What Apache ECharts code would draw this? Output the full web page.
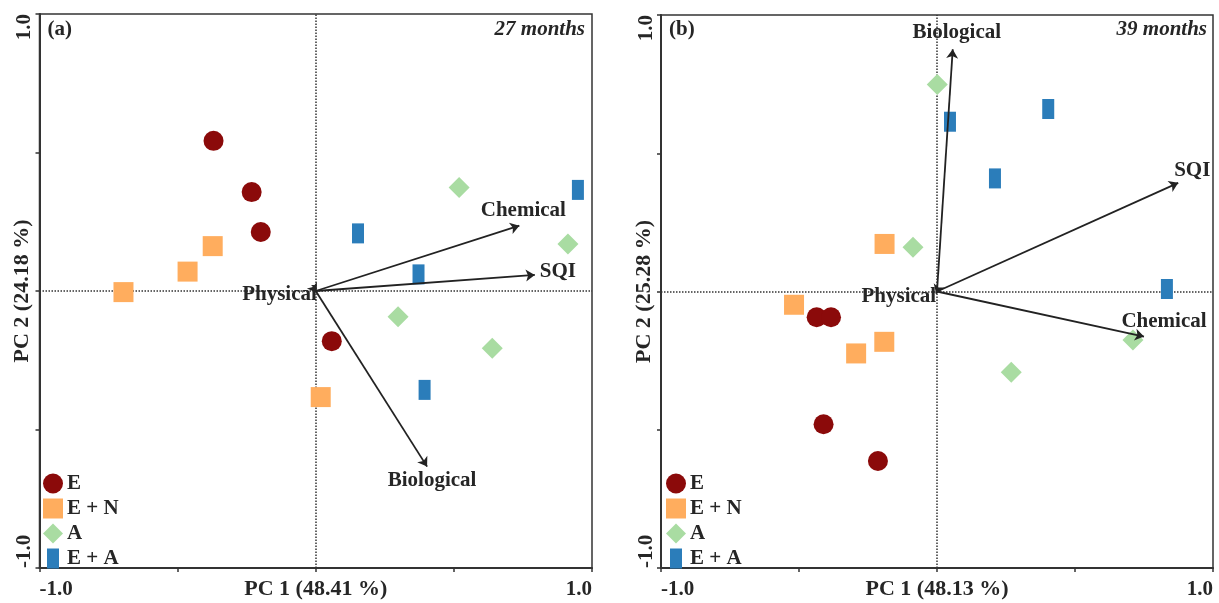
<!DOCTYPE html>
<html>
<head>
<meta charset="utf-8">
<script src="https://cdn.jsdelivr.net/npm/echarts@6/dist/echarts.min.js"></script>
<style>html,body{margin:0;padding:0;background:#fff}#c{width:1219px;height:603px}</style>
</head>
<body>
<div id="c"></div>
<script>
// ---------- DATA ----------
const groups = ['E', 'E + N', 'A', 'E + A'];
const panelTags = ['(a)', '(b)'];
const panelTimes = ['27 months', '39 months'];
const xAxisNames = ['PC 1 (48.41 %)', 'PC 1 (48.13 %)'];
const yAxisNames = ['PC 2 (24.18 %)', 'PC 2 (25.28 %)'];
const tickValues = [-1, -0.5, 0, 0.5, 1];

// panel (a) 27 months: scores [PC1, PC2]
const a_E  = [[-0.370, 0.542], [-0.232, 0.357], [-0.199, 0.213], [0.058, -0.181]];
const a_EN = [[-0.373, 0.162], [-0.464, 0.070], [-0.696, -0.004], [0.018, -0.383]];
const a_A  = [[0.519, 0.374], [0.913, 0.170], [0.298, -0.093], [0.639, -0.207]];
const a_EA = [[0.153, 0.208], [0.372, 0.060], [0.394, -0.357], [0.949, 0.365]];

// panel (b) 39 months
const b_E  = [[-0.436, -0.093], [-0.384, -0.093], [-0.411, -0.480], [-0.214, -0.613]];
const b_EN = [[-0.190, 0.172], [-0.518, -0.048], [-0.191, -0.182], [-0.293, -0.224]];
const b_A  = [[-0.087, 0.160], [0.710, -0.175], [0.269, -0.292], [0.001, 0.749]];
const b_EA = [[0.047, 0.614], [0.403, 0.660], [0.210, 0.409], [0.833, 0.009]];

// loading vectors
const vectorNames = ['Chemical', 'SQI', 'Biological', 'Physical'];
const a_vectors = [[0.737, 0.236], [0.793, 0.058], [0.403, -0.634], [0.004, -0.006]];
const b_vectors = [[0.750, -0.163], [0.874, 0.393], [0.057, 0.876], [-0.003, -0.008]];

// ---------- STYLE ----------
const FONT = '"Liberation Serif", "Times New Roman", serif';
const TXT = '#262626';
const colors = ['#8b0a0a', '#ffad5e', '#a9dca2', '#2b7dba'];
const symbols = ['circle', 'rect', 'diamond', 'rect'];
const sizes = [20, 20, 21, [12, 20]];
const legendIcons = ['circle', 'rect', 'diamond', 'path://M0,0h12v20h-12z'];

const grids = [
  { left: 39.5, right: 627, top: 14, bottom: 35 },
  { left: 661, right: 6, top: 15, bottom: 35 }
];
const legendPos = [{ left: 43, top: 473 }, { left: 666, top: 473 }];

// label placement of vector names relative to arrow tips
const vecLabelStyle = [
  {
    Chemical: { position: 'top', distance: 5, offset: [4, 0] },
    SQI: { position: 'right', distance: 5, offset: [0, -3] },
    Biological: { position: 'bottom', distance: 3, offset: [5, 0] },
    Physical: { position: 'left', distance: 0, offset: [0, 2] }
  },
  {
    Chemical: { position: 'top', distance: 4, offset: [20, 0] },
    SQI: { position: 'top', distance: 2, offset: [14, 0] },
    Biological: { position: 'top', distance: 6, offset: [4, 0] },
    Physical: { position: 'left', distance: 0, offset: [0, 3] }
  }
];

const scores = [[a_E, a_EN, a_A, a_EA], [b_E, b_EN, b_A, b_EA]];
const vectors = [a_vectors, b_vectors];

const fmtTick = v => (Math.abs(v) === 1 ? v.toFixed(1) : '');

const xAxes = [], yAxes = [], series = [], titles = [], legends = [];
for (let p = 0; p < 2; p++) {
  xAxes.push({
    gridIndex: p, type: 'value', min: -1, max: 1, interval: 0.5,
    name: xAxisNames[p], nameLocation: 'middle', nameGap: 10, nameMoveOverlap: false,
    nameTextStyle: { fontFamily: FONT, fontWeight: 'bold', fontSize: 22, color: TXT },
    axisLine: { show: true, onZero: false, lineStyle: { color: '#333', width: 2 } },
    axisTick: { show: true, length: 4, lineStyle: { color: '#333', width: 1.5 } },
    axisLabel: {
      formatter: fmtTick, margin: 11, fontFamily: FONT, fontWeight: 'bold', fontSize: 21, color: TXT,
      alignMinLabel: 'left', alignMaxLabel: 'right', showMinLabel: true, showMaxLabel: true
    },
    splitLine: { show: false }
  });
  yAxes.push({
    gridIndex: p, type: 'value', min: -1, max: 1, interval: 0.5,
    name: yAxisNames[p], nameLocation: 'middle', nameGap: 6, nameRotate: 90, nameMoveOverlap: false,
    nameTextStyle: { fontFamily: FONT, fontWeight: 'bold', fontSize: 22, color: TXT },
    axisLine: { show: true, onZero: false, lineStyle: { color: '#333', width: 2 } },
    axisTick: { show: true, length: 4, lineStyle: { color: '#333', width: 1.5 } },
    axisLabel: {
      formatter: fmtTick, margin: 4, rotate: 90, fontFamily: FONT, fontWeight: 'bold', fontSize: 21, color: TXT,
      alignMinLabel: 'left', alignMaxLabel: 'right', showMinLabel: true, showMaxLabel: true
    },
    splitLine: { show: false }
  });

  groups.forEach((g, i) => {
    const s = {
      name: g, type: 'scatter', xAxisIndex: p, yAxisIndex: p,
      symbol: symbols[i], symbolSize: sizes[i],
      itemStyle: { color: colors[i], opacity: 1 },
      data: scores[p][i], z: 3
    };
    if (i === 0) {
      s.markLine = {
        silent: true, symbol: 'none', label: { show: false },
        lineStyle: { type: 'dotted', color: '#333', width: 1.5 },
        data: [{ xAxis: 0 }, { yAxis: 0 }], z: 1
      };
    }
    series.push(s);
  });

  series.push({
    type: 'lines', coordinateSystem: 'cartesian2d', xAxisIndex: p, yAxisIndex: p,
    symbol: ['none', 'arrow'], symbolSize: [7, 9], silent: true, z: 5,
    lineStyle: { color: '#222', width: 1.8, opacity: 1, curveness: 0 },
    data: vectors[p].map(v => ({ coords: [[0, 0], v] }))
  });

  series.push({
    type: 'scatter', xAxisIndex: p, yAxisIndex: p, symbolSize: 0, silent: true, z: 6,
    itemStyle: { opacity: 1 },
    data: vectors[p].map((v, k) => ({
      name: vectorNames[k], value: v,
      label: Object.assign({
        show: true, formatter: '{b}', fontFamily: FONT, fontWeight: 'bold', fontSize: 21,
        color: TXT, opacity: 1, textBorderWidth: 0
      }, vecLabelStyle[p][vectorNames[k]])
    }))
  });

  legends.push({
    orient: 'vertical', left: legendPos[p].left, top: legendPos[p].top, padding: 0,
    itemWidth: 20, itemHeight: 20, itemGap: 4, selectedMode: false,
    textStyle: { fontFamily: FONT, fontWeight: 'bold', fontSize: 21, color: TXT, padding: [0, 0, 0, -1] },
    data: groups.map((g, i) => ({ name: g, icon: legendIcons[i] }))
  });

  titles.push({
    text: panelTags[p], left: grids[p].left + 8, top: 19, padding: 0,
    textStyle: { fontFamily: FONT, fontWeight: 'bold', fontSize: 21, color: TXT }
  });
  titles.push({
    text: panelTimes[p], right: p === 0 ? 634 : 12, top: 19, padding: 0,
    textStyle: { fontFamily: FONT, fontWeight: 'bold', fontStyle: 'italic', fontSize: 21, color: TXT }
  });
}

const chart = echarts.init(document.getElementById('c'), null, { renderer: 'canvas' });
chart.setOption({
  animation: false,
  backgroundColor: '#fff',
  title: titles,
  legend: legends,
  grid: grids.map(g => Object.assign({ show: true, borderColor: '#333', borderWidth: 1.5, containLabel: false, outerBoundsMode: 'none' }, g)),
  xAxis: xAxes,
  yAxis: yAxes,
  series: series
});
</script>
</body>
</html>
